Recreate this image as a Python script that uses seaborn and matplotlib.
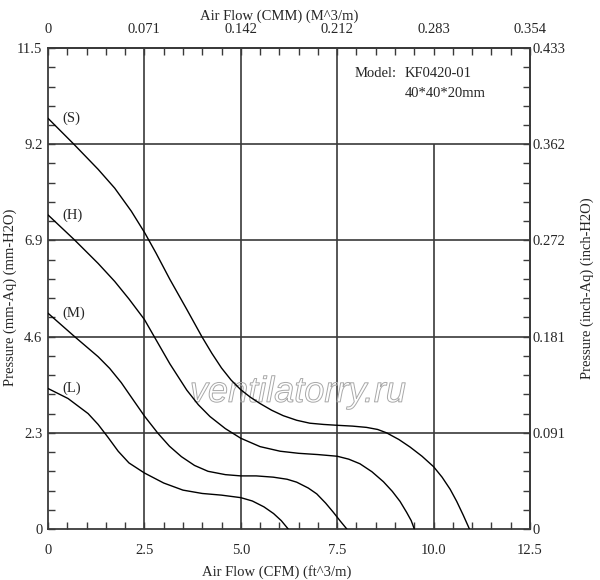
import numpy as np
import pandas as pd
import matplotlib
matplotlib.use("Agg")
import matplotlib.pyplot as plt
import matplotlib.patheffects as pe
import seaborn as sns

sns.set_style("ticks")
plt.rcParams['font.family'] = ['Liberation Serif', 'DejaVu Serif']

# fan curves, air flow in CFM vs static pressure in mm-Aq
s_flow = [0, 0.65, 1.30, 1.73, 2.16, 2.51, 2.8, 3.16, 3.6, 3.99, 4.25, 4.5, 4.75, 5.0,
          5.25, 5.5, 5.8, 6.1, 6.45, 6.79, 7.15, 7.5, 7.9, 8.26, 8.55, 8.78, 9.1, 9.39,
          9.7, 10.0, 10.22, 10.43, 10.6, 10.77, 10.93]
s_pres = [9.82, 9.22, 8.6, 8.15, 7.6, 7.08, 6.6, 5.97, 5.25, 4.6, 4.2, 3.85, 3.56, 3.33,
          3.15, 3.0, 2.84, 2.71, 2.6, 2.53, 2.5, 2.48, 2.46, 2.43, 2.38, 2.3, 2.14, 1.96,
          1.74, 1.49, 1.24, 0.95, 0.66, 0.33, 0]
h_flow = [0, 0.69, 1.30, 1.73, 2.1, 2.5, 2.73, 3.16, 3.6, 3.9, 4.2, 4.6, 5.0, 5.5, 6.02,
          6.5, 7.0, 7.5, 7.8, 8.09, 8.4, 8.7, 8.93, 9.13, 9.3, 9.42, 9.5]
h_pres = [7.51, 6.91, 6.35, 5.92, 5.5, 5.01, 4.64, 3.95, 3.32, 2.97, 2.69, 2.4, 2.17, 1.97,
          1.86, 1.81, 1.78, 1.74, 1.67, 1.56, 1.37, 1.13, 0.9, 0.66, 0.4, 0.2, 0]
m_flow = [0, 0.69, 1.3, 1.6, 1.9, 2.2, 2.51, 2.85, 3.15, 3.46, 3.8, 4.15, 4.6, 5.0, 5.4,
          5.84, 6.2, 6.45, 6.75, 6.97, 7.2, 7.4, 7.58, 7.75]
m_pres = [5.16, 4.6, 4.12, 3.84, 3.5, 3.1, 2.69, 2.29, 1.98, 1.73, 1.52, 1.38, 1.3, 1.27, 1.27,
          1.24, 1.19, 1.12, 0.98, 0.84, 0.62, 0.4, 0.19, 0]
l_flow = [0, 0.52, 1.04, 1.3, 1.55, 1.82, 2.1, 2.5, 3.0, 3.5, 4.0, 4.5, 5.0, 5.3, 5.6,
          5.85, 6.05, 6.23]
l_pres = [3.36, 3.12, 2.76, 2.5, 2.2, 1.86, 1.58, 1.34, 1.1, 0.93, 0.85, 0.81, 0.75, 0.67,
          0.53, 0.37, 0.2, 0]
curve_names = ["(S)", "(H)", "(M)", "(L)"]

cfm_ticks = [0, 2.5, 5.0, 7.5, 10.0, 12.5]
cfm_labels = ["0", "2.5", "5.0", "7.5", "10.0", "12.5"]
cmm_labels = ["0", "0.071", "0.142", "0.212", "0.283", "0.354"]
mm_ticks = [0, 2.3, 4.6, 6.9, 9.2, 11.5]
mm_labels = ["0", "2.3", "4.6", "6.9", "9.2", "11.5"]
inch_labels = ["0", "0.091", "0.181", "0.272", "0.362", "0.433"]

flows = [s_flow, h_flow, m_flow, l_flow]
pressures = [s_pres, h_pres, m_pres, l_pres]
rows = []
for name, fl, pr in zip(curve_names, flows, pressures):
    rows += [(name, f, p) for f, p in zip(fl, pr)]
df = pd.DataFrame(rows, columns=["speed", "flow", "pressure"])

fig = plt.figure(figsize=(6, 5.8), dpi=100)
ax = fig.add_axes([0.08, 0.0879, 0.8033, 0.8293])
ax.set_xlim(0, 12.5)
ax.set_ylim(0, 11.5)

gcol = "#3a3a3a"
for x in cfm_ticks[1:4]:
    ax.axvline(x, color=gcol, lw=1.2, zorder=1)
ax.vlines(cfm_ticks[4], 0, mm_ticks[4], color=gcol, lw=1.2, zorder=1)
for y in mm_ticks[1:5]:
    ax.axhline(y, color=gcol, lw=1.2, zorder=1)

# watermark
ax.text(3.68, 3.04, "ventilatorry.ru", fontsize=26, family=['Liberation Sans'],
        style='italic', color='none', ha='left', va='baseline', zorder=1.5,
        path_effects=[pe.Stroke(linewidth=0.7, foreground='#a8a8a8')])

sns.lineplot(data=df, x="flow", y="pressure", hue="speed", palette=["black"] * 4,
             sort=False, estimator=None, legend=False, lw=1.0, ax=ax, zorder=3)

for name, pr in zip(curve_names, pressures):
    ax.text(0.36, pr[0], name, fontsize=10.5, ha='left', va='center')

ax.text(7.96, 10.88, "Model:", fontsize=10.5, ha='left', va='center')
ax.text(9.26, 10.88, "KF0420-01", fontsize=10.5, ha='left', va='center')
ax.text(9.26, 10.42, "40*40*20mm", fontsize=10.5, ha='left', va='center')

ax.set_xticks(cfm_ticks, cfm_labels)
ax.set_yticks(mm_ticks, mm_labels)
ax.set_xticks(np.arange(0, 12.51, 0.5), minor=True)
ax.set_yticks(np.arange(0, 11.51, 0.46), minor=True)
ax.tick_params(which='both', direction='in', length=5, width=1, color=gcol, labelsize=10.5)
ax.tick_params(axis='x', pad=11)
ax.tick_params(axis='y', pad=4)

top = ax.secondary_xaxis('top')
top.set_xticks(cfm_ticks, cmm_labels)
top.set_xticks(np.arange(0, 12.51, 0.5), minor=True)
top.tick_params(which='both', direction='in', length=5, width=1, color=gcol, labelsize=10.5, pad=9)

right = ax.secondary_yaxis('right')
right.set_yticks(mm_ticks, inch_labels)
right.set_yticks(np.arange(0, 11.51, 0.46), minor=True)
right.tick_params(which='both', direction='in', length=5, width=1, color=gcol, labelsize=10.5, pad=2)

for a in (ax, top, right):
    for sp in a.spines.values():
        sp.set_color(gcol)
        sp.set_linewidth(1.3)

ax.set_xlabel("Air Flow (CFM) (ft^3/m)", fontsize=10.5)
ax.xaxis.set_label_coords(0.475, -0.075)
ax.set_ylabel("Pressure (mm-Aq) (mm-H2O)", fontsize=10.5)
ax.yaxis.set_label_coords(-0.064, 0.482)
top.set_xlabel("Air Flow (CMM) (M^3/m)", fontsize=10.5)
top.xaxis.set_label_coords(0.48, 1.058, transform=ax.transAxes)
right.set_ylabel("Pressure (inch-Aq) (inch-H2O)", fontsize=10.5)
right.yaxis.set_label_coords(1.104, 0.5, transform=ax.transAxes)

fig.savefig("out.png", dpi=100)
